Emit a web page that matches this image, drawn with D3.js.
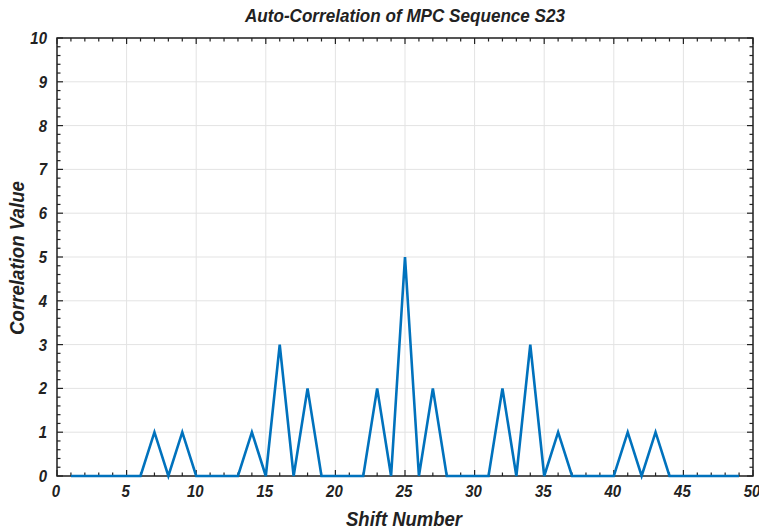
<!DOCTYPE html>
<html>
<head>
<meta charset="utf-8">
<script src="https://cdn.jsdelivr.net/npm/d3@7"></script>
<style>
body { margin: 0; background: #fff; }
text { font-family: "Liberation Sans", Arial, sans-serif; font-weight: bold; font-style: italic; }
</style>
</head>
<body>
<div class="chart"></div>
<script>
// shift numbers 1..49 and auto-correlation values
const shifts = d3.range(1, 50);
const values = [0,0,0,0,0,0,1,0,1,0, 0,0,0,1,0,3,0,2,0,0, 0,0,2,0,5,0,2,0,0,0, 0,2,0,3,0,1,0,0,0,0, 1,0,1,0,0,0,0,0,0];
const xTicks = [0, 5, 10, 15, 20, 25, 30, 35, 40, 45, 50];
const yTicks = [0, 1, 2, 3, 4, 5, 6, 7, 8, 9, 10];

const data = shifts.map((s, i) => ({shift: s, value: values[i]}));

const margin = ({top: 38, right: 6, bottom: 53, left: 57});
const W = 759, H = 529;
const width = W - margin.left - margin.right;
const height = H - margin.top - margin.bottom;

const svg = d3.select(".chart").append("svg")
	.attr("width", W)
	.attr("height", H);
const g = svg.append("g")
	.attr("transform", `translate(${margin.left},${margin.top})`);

const xScale = d3.scaleLinear().domain([0, 50]).range([0, width]);
const yScale = d3.scaleLinear().domain([0, 10]).range([height, 0]);

// grid
g.selectAll(".gx").data(xTicks).enter().append("line")
	.attr("x1", d => xScale(d)).attr("x2", d => xScale(d))
	.attr("y1", 0).attr("y2", height)
	.attr("stroke", "#e3e3e3").attr("stroke-width", 1);
g.selectAll(".gy").data(yTicks).enter().append("line")
	.attr("y1", d => yScale(d)).attr("y2", d => yScale(d))
	.attr("x1", 0).attr("x2", width)
	.attr("stroke", "#e3e3e3").attr("stroke-width", 1);

// minor + major ticks, inward on all sides
const xMinor = d3.range(0, 51, 1);
const yMinor = d3.range(0, 10.01, 0.2);
function tickLen(v, step) { return Math.abs(v / step - Math.round(v / step)) < 1e-6 ? 6 : 3.5; }

const ticks = g.append("g").attr("stroke", "#222").attr("stroke-width", 1.2);
xMinor.forEach(v => {
	const L = tickLen(v, 5);
	ticks.append("line").attr("x1", xScale(v)).attr("x2", xScale(v)).attr("y1", height).attr("y2", height - L);
	ticks.append("line").attr("x1", xScale(v)).attr("x2", xScale(v)).attr("y1", 0).attr("y2", L);
});
yMinor.forEach(v => {
	const L = tickLen(v, 1);
	ticks.append("line").attr("y1", yScale(v)).attr("y2", yScale(v)).attr("x1", 0).attr("x2", L);
	ticks.append("line").attr("y1", yScale(v)).attr("y2", yScale(v)).attr("x1", width).attr("x2", width - L);
});

// frame
g.append("rect").attr("width", width).attr("height", height)
	.attr("fill", "none").attr("stroke", "#222").attr("stroke-width", 1.5);

// tick labels (narrowed a bit, the original font is condensed)
g.selectAll(".xl").data(xTicks).enter().append("text")
	.attr("transform", d => `translate(${xScale(d) - 1},${height + 21}) scale(0.88,1)`)
	.attr("text-anchor", "middle").attr("font-size", "17px").attr("fill", "#222")
	.text(d => d);
g.selectAll(".yl").data(yTicks).enter().append("text")
	.attr("transform", d => `translate(-10,${yScale(d) + 6}) scale(0.88,1)`)
	.attr("text-anchor", "end").attr("font-size", "17px").attr("fill", "#222")
	.text(d => d);

// line
const line = d3.line().x(d => xScale(d.shift)).y(d => yScale(d.value));
g.append("path").datum(data)
	.attr("d", line)
	.attr("fill", "none")
	.attr("stroke", "#0072BD")
	.attr("stroke-width", 2.6)
	.attr("stroke-linejoin", "miter");

// titles
svg.append("text")
	.attr("transform", `translate(${margin.left + width / 2},22) scale(0.95,1)`)
	.attr("text-anchor", "middle").attr("font-size", "18px").attr("fill", "#222")
	.text("Auto-Correlation of MPC Sequence S23");
svg.append("text")
	.attr("transform", `translate(${margin.left + width / 2 - 1},526) scale(0.88,1)`)
	.attr("text-anchor", "middle").attr("font-size", "21px").attr("fill", "#222")
	.text("Shift Number");
svg.append("text")
	.attr("transform", `translate(24,${margin.top + height / 2 + 1}) rotate(-90) scale(0.89,1)`)
	.attr("text-anchor", "middle").attr("font-size", "21px").attr("fill", "#222")
	.text("Correlation Value");
</script>
</body>
</html>
